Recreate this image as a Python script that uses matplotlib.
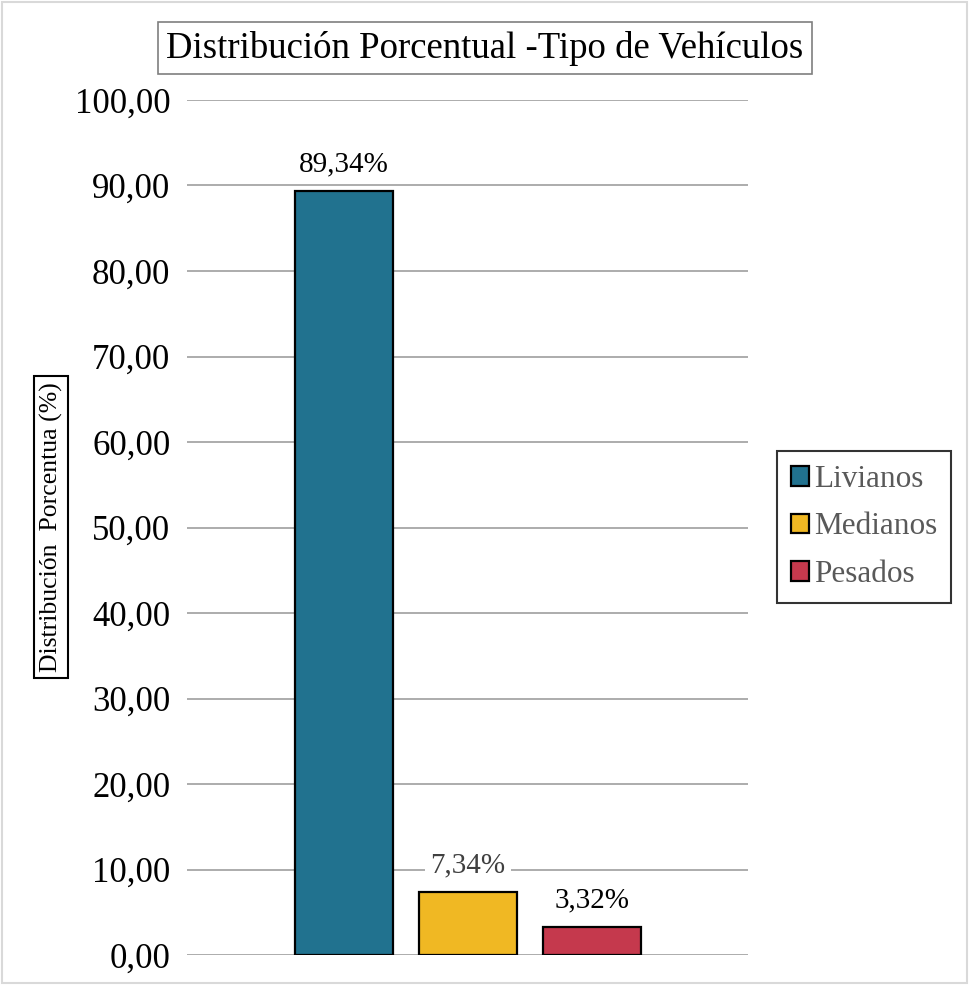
import matplotlib
matplotlib.use("Agg")
import matplotlib.pyplot as plt
from matplotlib.patches import Rectangle

# Data
categorias = ["Livianos", "Medianos", "Pesados"]
porcentajes = [89.34, 7.34, 3.32]
etiquetas = ["89,34%", "7,34%", "3,32%"]
colores = ["#21728f", "#f0b823", "#c5394d"]
color_etiqueta = ["black", "#404040", "black"]
yticks = list(range(0, 101, 10))

plt.rcParams['font.family'] = ['Liberation Serif', 'DejaVu Serif']

fig = plt.figure(figsize=(9.69, 9.85), dpi=100)
ax = fig.add_axes([187/969, 1 - 955/985, (748-187)/969, (955-100)/985])

# Outer chart border
fig.patches.append(Rectangle((0.002, 0.002), 0.996, 0.996, transform=fig.transFigure,
                             fill=False, edgecolor="#d9d9d9", linewidth=1.5))

x = range(len(categorias))
bars = ax.bar(x, porcentajes, width=0.79, color=colores, edgecolor="black",
              linewidth=1.6, zorder=3, label=categorias)

for i, b in enumerate(bars):
	bbox = None
	if i == 1:
		bbox = dict(facecolor="white", edgecolor="none", pad=4)
	ax.text(b.get_x() + b.get_width()/2, b.get_height() + 3.1, etiquetas[i],
	        ha="center", va="center", fontsize=21, color=color_etiqueta[i],
	        bbox=bbox, zorder=4)

ax.set_xlim(-1.266, 3.258)
ax.set_ylim(0, 100)
ax.set_yticks(yticks)
ax.set_yticklabels([f"{v:.2f}".replace(".", ",") for v in yticks], fontsize=25)
ax.set_xticks([])
ax.tick_params(axis="y", length=0, pad=12)
ax.grid(axis="y", color="#a6a6a6", linewidth=1.3, zorder=0)
for s in ax.spines.values():
	s.set_visible(False)

fig.text(485/969, 1 - 48/985, "Distribución Porcentual -Tipo de Vehículos",
         ha="center", va="center", fontsize=26.5,
         bbox=dict(facecolor="white", edgecolor="#7f7f7f", linewidth=1.2, pad=6))

fig.text(51/969, 1 - 527/985, "Distribución  Porcentua (%)", rotation=90,
         ha="center", va="center", fontsize=18.5,
         bbox=dict(facecolor="white", edgecolor="black", linewidth=1.5, pad=4))

leg = fig.legend(handles=bars, labels=categorias, loc="center",
                 bbox_to_anchor=(864/969, 1 - 527/985), fontsize=22.5,
                 frameon=True, fancybox=False, edgecolor="black",
                 handlelength=0.6, handleheight=0.6, handletextpad=0.15,
                 labelspacing=0.6, borderpad=0.45, borderaxespad=0)
leg.get_frame().set_linewidth(1.5)
for t in leg.get_texts():
	t.set_color("#595959")

fig.savefig("out.png", dpi=100)
